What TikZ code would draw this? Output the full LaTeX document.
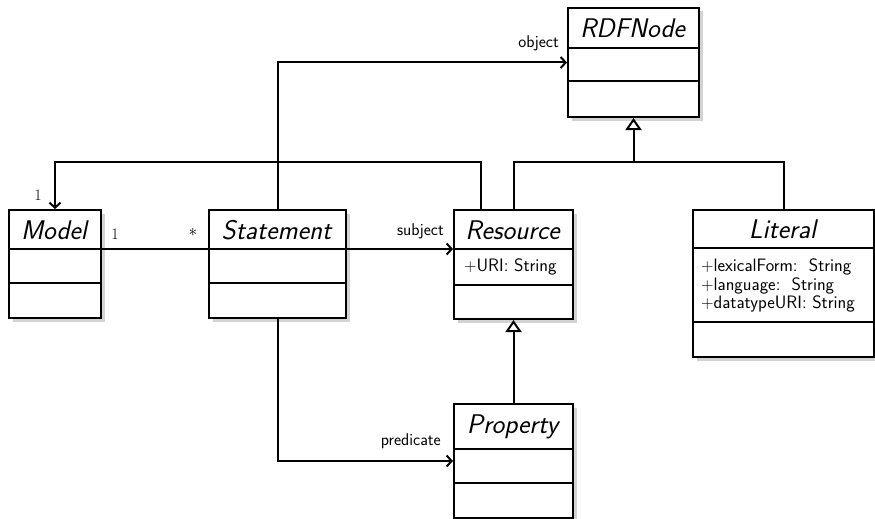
\documentclass[tikz,border=0pt]{standalone}
\usepackage{fontspec}
\usetikzlibrary{shadows,arrows.meta,calc}
\begin{document}
\begin{tikzpicture}[x=1pt,y=-1pt,
  font=\sffamily,
  lw/.style={line width=2pt},
  cls/.style={draw, lw, fill=white, inner sep=0pt, anchor=north west,
    drop shadow={shadow xshift=3.5pt, shadow yshift=-3.5pt, opacity=0.35}},
  ttl/.style={inner sep=0pt, font=\sffamily\itshape\fontsize{27}{30}\selectfont},
  attr/.style={inner sep=0pt, align=left, font=\sffamily\fontsize{18}{18.3}\selectfont},
  lbl/.style={inner sep=0pt, font=\sffamily\fontsize{17}{18}\selectfont},
  mult/.style={inner sep=0pt, font=\rmfamily\fontsize{16}{17}\selectfont},
  assoc/.style={lw, -{Straight Barb[length=5pt,width=11pt]}},
  plain/.style={lw},
  inherit/.style={lw, -{Triangle[open, length=12pt, width=16pt, fill=white]}}]
\useasboundingbox (0,0) rectangle (875,519);

% classes
\node[cls, minimum width=131, minimum height=109] (rdf) at (567,7) {};
\node[cls, minimum width=92, minimum height=108] (model) at (8,209) {};
\node[cls, minimum width=137, minimum height=108] (stmt) at (208,209) {};
\node[cls, minimum width=119, minimum height=109] (res) at (453,209) {};
\node[cls, minimum width=181, minimum height=147] (lit) at (692,209) {};
\node[cls, minimum width=119, minimum height=114] (prop) at (453,403) {};

% section lines
\draw[plain] (rdf.west |- 0,48) -- (rdf.east |- 0,48);
\draw[plain] (rdf.west |- 0,81) -- (rdf.east |- 0,81);
\draw[plain] (model.west |- 0,249) -- (model.east |- 0,249);
\draw[plain] (model.west |- 0,283) -- (model.east |- 0,283);
\draw[plain] (stmt.west |- 0,249) -- (stmt.east |- 0,249);
\draw[plain] (stmt.west |- 0,283) -- (stmt.east |- 0,283);
\draw[plain] (res.west |- 0,249) -- (res.east |- 0,249);
\draw[plain] (res.west |- 0,285) -- (res.east |- 0,285);
\draw[plain] (lit.west |- 0,248) -- (lit.east |- 0,248);
\draw[plain] (lit.west |- 0,322) -- (lit.east |- 0,322);
\draw[plain] (prop.west |- 0,449) -- (prop.east |- 0,449);
\draw[plain] (prop.west |- 0,483) -- (prop.east |- 0,483);

% titles
\node[ttl] (rdf-t) at (632.5,28) {RDFNode};
\node[ttl] (model-t) at (54,230) {Model};
\node[ttl] (stmt-t) at (276.5,230) {Statement};
\node[ttl] (res-t) at (512.5,230) {Resource};
\node[ttl] (lit-t) at (782.5,229.5) {Literal};
\node[ttl] (prop-t) at (512.5,427) {Property};

% attributes
\node[attr, anchor=west] (res-a) at (464,267) {$+$URI: String};
\node[attr, anchor=north west] (lit-a) at (701,259) {$+$lexicalForm:\ \ String\\$+$language:\ \ String\\$+$datatypeURI:\ String};

% connectors
\draw[assoc] (stmt.north) |- (rdf.west);
\draw[assoc] ($(res.north)+(-32.5,0)$) -- ++(0,-47) -| (model.north);
\draw[plain] ($(model.north east)+(0,40)$) -- ($(stmt.north west)+(0,40)$);
\draw[assoc] ($(stmt.north east)+(0,40)$) -- ($(res.north west)+(0,40)$);
\draw[assoc] (stmt.south) |- (prop.west);
\coordinate (jn) at ($(res.north)+(120,-47)$);
\draw[plain] (res.north) |- (jn) -| (lit.north);
\draw[inherit] (jn) -- (rdf.south);
\draw[inherit] (prop.north) -- (res.south);

% labels
\node[lbl, anchor=base east] (l-obj) at (559,48) {object};
\node[lbl, anchor=base east] (l-subj) at (444,235) {subject};
\node[lbl, anchor=base east] (l-pred) at (441,445) {predicate};
\node[mult] (m1) at (38,195) {1};
\node[mult] (m2) at (115,234) {1};
\node[mult] (m3) at (193,232) {$*$};
\end{tikzpicture}
\end{document}
